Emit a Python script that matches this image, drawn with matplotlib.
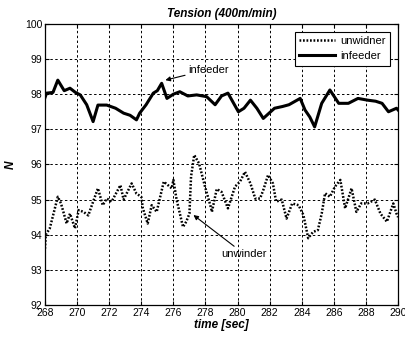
import matplotlib
matplotlib.use("Agg")
import matplotlib.pyplot as plt

plt.rcParams['font.family'] = ['Liberation Sans', 'DejaVu Sans']

# infeeder tension trace
t_infeeder = [268.0, 268.1, 268.5, 268.8, 269.2, 269.56, 269.9, 270.2, 270.6, 271.0,
              271.3, 271.85, 272.4, 272.9, 273.3, 273.7, 273.9, 274.3, 274.75, 275.0,
              275.27, 275.6, 276.0, 276.4, 276.9, 277.45, 278.07, 278.6, 279.0, 279.4,
              280.05, 280.4, 280.8, 281.2, 281.6, 282.3, 282.8, 283.2, 283.9, 284.2,
              284.5, 284.8, 285.24, 285.75, 286.3, 286.9, 287.5, 288.1, 288.6, 289.0,
              289.4, 289.9, 290.0]
v_infeeder = [97.9, 98.03, 98.05, 98.4, 98.1, 98.17, 98.05, 97.98, 97.7, 97.22,
              97.69, 97.69, 97.6, 97.46, 97.4, 97.27, 97.46, 97.7, 98.03, 98.1,
              98.31, 97.88, 98.0, 98.07, 97.95, 97.98, 97.93, 97.7, 97.95, 98.03,
              97.5, 97.6, 97.83, 97.6, 97.31, 97.6, 97.65, 97.7, 97.88, 97.55,
              97.35, 97.07, 97.74, 98.12, 97.74, 97.74, 97.88, 97.83, 97.8, 97.74,
              97.5, 97.6, 97.55]

# unwinder tension trace
t_unwinder = [268.0, 268.05, 268.3, 268.8, 269.0, 269.35, 269.56, 269.87, 270.1, 270.4,
              270.7, 271.0, 271.3, 271.6, 271.85, 272.15, 272.7, 272.9, 273.4, 273.7,
              274.0, 274.1, 274.4, 274.65, 274.96, 275.4, 275.9, 276.0, 276.2, 276.6,
              276.8, 277.0, 277.1, 277.3, 277.6, 277.97, 278.3, 278.4, 278.7, 279.0,
              279.4, 279.84, 280.15, 280.46, 280.8, 281.1, 281.4, 281.6, 281.9, 282.2,
              282.4, 282.75, 283.05, 283.4, 283.8, 284.1, 284.4, 284.7, 285.0, 285.24,
              285.45, 285.75, 286.07, 286.4, 286.7, 287.1, 287.4, 287.7, 288.1, 288.55,
              288.9, 289.3, 289.7, 289.9, 290.0]
v_unwinder = [93.6, 94.0, 94.18, 95.08, 94.89, 94.32, 94.6, 94.18, 94.7, 94.65,
              94.55, 94.94, 95.32, 94.84, 95.03, 94.94, 95.41, 95.0, 95.46, 95.17,
              95.08, 94.75, 94.32, 94.84, 94.65, 95.51, 95.32, 95.56, 95.0, 94.22,
              94.37, 94.6, 95.65, 96.27, 96.03, 95.37, 94.84, 94.65, 95.3, 95.22,
              94.75, 95.37, 95.51, 95.79, 95.46, 95.03, 95.03, 95.27, 95.7, 95.46,
              94.94, 95.0, 94.46, 94.89, 94.84, 94.56, 93.9, 94.08, 94.13, 94.6,
              95.18, 95.08, 95.37, 95.56, 94.75, 95.32, 94.65, 94.89, 94.89, 95.0,
              94.6, 94.37, 94.89, 94.6, 94.5]

x_ticks = list(range(268, 291, 2))
y_ticks = list(range(92, 101))

fig = plt.figure(figsize=(4.05, 3.37), dpi=100)
ax = fig.add_axes([0.111, 0.095, 0.872, 0.834])

ax.plot(t_unwinder, v_unwinder, color='black', linestyle=(0, (0.7, 0.7)), linewidth=1.8,
        label='unwidner')
ax.plot(t_infeeder, v_infeeder, color='black', linestyle='-', linewidth=2.2,
        label='infeeder')

ax.set_xlim(268, 290)
ax.set_ylim(92, 100)
ax.set_xticks(x_ticks)
ax.set_yticks(y_ticks)
ax.tick_params(direction='in', top=True, right=True, labelsize=7.5, length=3,
               width=0.8, pad=2)
ax.grid(True, color='black', linestyle=(0, (2.5, 2.5)), linewidth=0.7)
for s in ax.spines.values():
    s.set_linewidth(0.9)

ax.set_title('Tension (400m/min)', fontsize=8.5, fontweight='bold', style='italic', pad=5)
ax.set_xlabel('time [sec]', fontsize=8.5, fontweight='bold', style='italic', labelpad=1)
ax.set_ylabel('N', fontsize=8.5, fontweight='bold', style='italic', labelpad=6)

ax.annotate('infeeder', xy=(275.5, 98.4), xytext=(276.9, 98.7), fontsize=8,
            va='center', ha='left',
            arrowprops=dict(arrowstyle='-|>', color='black', lw=0.8,
                            mutation_scale=7, shrinkA=0, shrinkB=0))
ax.annotate('unwinder', xy=(277.25, 94.56), xytext=(279.0, 93.45), fontsize=8,
            va='center', ha='left',
            arrowprops=dict(arrowstyle='-|>', color='black', lw=0.8,
                            mutation_scale=7, shrinkA=0, shrinkB=0))

leg = ax.legend(loc='upper right', fontsize=8, frameon=True, fancybox=False,
                edgecolor='black', framealpha=1, handlelength=3.2,
                borderaxespad=0.7, borderpad=0.4, labelspacing=0.45, handletextpad=0.5)
leg.get_frame().set_linewidth(0.8)

fig.savefig('out.png', dpi=100)
